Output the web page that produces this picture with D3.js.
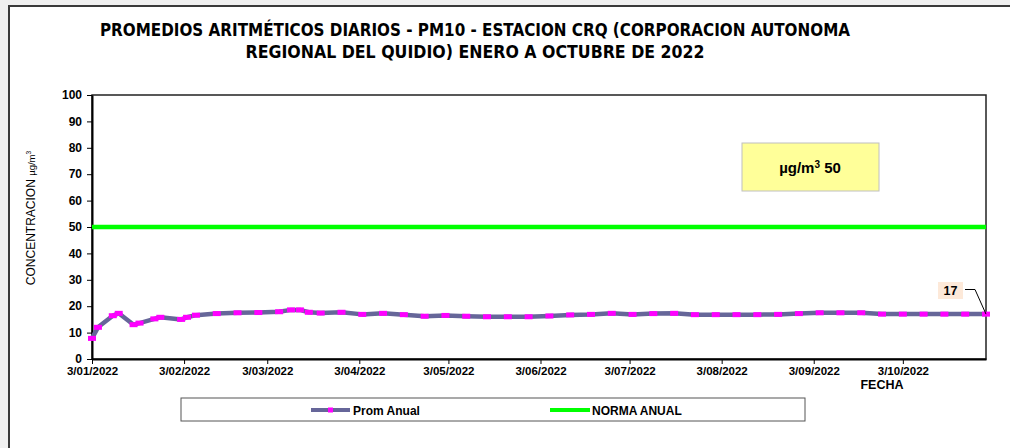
<!DOCTYPE html>
<html>
<head>
<meta charset="utf-8">
<script src="https://cdn.jsdelivr.net/npm/d3@7"></script>
<style>
  body { margin: 0; background: #f0f0f0; }
  svg { display: block; }
</style>
</head>
<body>
<svg id="chart"></svg>
<script>
// Datos
var fechas = ["2022-01-03","2022-01-05","2022-01-10","2022-01-12","2022-01-17","2022-01-19","2022-01-24","2022-01-26",
  "2022-02-02","2022-02-04","2022-02-07","2022-02-14","2022-02-21","2022-02-28","2022-03-07","2022-03-11",
  "2022-03-14","2022-03-17","2022-03-21","2022-03-28","2022-04-04","2022-04-11","2022-04-18","2022-04-25",
  "2022-05-02","2022-05-09","2022-05-16","2022-05-23","2022-05-30","2022-06-06","2022-06-13","2022-06-20",
  "2022-06-27","2022-07-04","2022-07-11","2022-07-18","2022-07-25","2022-08-01","2022-08-08","2022-08-15",
  "2022-08-22","2022-08-29","2022-09-05","2022-09-12","2022-09-19","2022-09-26","2022-10-03","2022-10-10",
  "2022-10-17","2022-10-24","2022-10-31"];
var promAnual = [7.8, 12.0, 16.4, 17.3, 13.0, 13.6, 15.2, 15.8,
  15.0, 15.8, 16.6, 17.2, 17.5, 17.6, 17.9, 18.6,
  18.6, 17.7, 17.4, 17.7, 16.9, 17.3, 16.8, 16.2,
  16.5, 16.2, 16.0, 16.0, 16.0, 16.3, 16.7, 16.9,
  17.3, 16.9, 17.2, 17.3, 16.8, 16.8, 16.8, 16.8,
  16.9, 17.2, 17.5, 17.5, 17.5, 17.0, 17.0, 17.0,
  17.0, 17.0, 17.0];
var normaAnual = [50, 50];
var normaFechas = ["2022-01-03", "2022-10-31"];
var tickFechas = ["2022-01-03","2022-02-03","2022-03-03","2022-04-03","2022-05-03",
  "2022-06-03","2022-07-03","2022-08-03","2022-09-03","2022-10-03"];
var yTicks = [0, 10, 20, 30, 40, 50, 60, 70, 80, 90, 100];

var parse = d3.timeParse("%Y-%m-%d");
var serie = fechas.map(function (f, i) { return { fecha: parse(f), valor: promAnual[i] }; });
var norma = normaFechas.map(function (f, i) { return { fecha: parse(f), valor: normaAnual[i] }; });

var width = 1010, height = 448;
var pLeft = 92, pRight = 986, pTop = 95, pBottom = 359;
var fuente = "'Liberation Sans', Arial, sans-serif";

var svg = d3.select("#chart").attr("width", width).attr("height", height);

// fondo y marco
svg.append("rect").attr("x", 9).attr("y", 6).attr("width", width).attr("height", height)
  .attr("fill", "#fff").attr("stroke", "#3a3a3a").attr("stroke-width", 2);

// escalas
var x = d3.scaleTime().domain([parse("2022-01-03"), parse("2022-10-31")]).range([pLeft, pRight]);
var y = d3.scaleLinear().domain([0, 100]).range([pBottom, pTop]);

// titulo
var titulo = svg.append("g")
  .style("font-family", "'Liberation Sans Narrow', 'DejaVu Sans Condensed', 'Liberation Sans', Arial, sans-serif")
  .style("font-weight", "bold").style("font-size", "17px").attr("fill", "#000");
titulo.append("text").attr("x", 475).attr("y", 36).attr("text-anchor", "middle")
  .attr("textLength", 750).attr("lengthAdjust", "spacingAndGlyphs")
  .text("PROMEDIOS ARITMÉTICOS DIARIOS - PM10 -  ESTACION CRQ (CORPORACION AUTONOMA");
titulo.append("text").attr("x", 475).attr("y", 58).attr("text-anchor", "middle")
  .attr("textLength", 459).attr("lengthAdjust", "spacingAndGlyphs")
  .text("REGIONAL DEL QUIDIO) ENERO A OCTUBRE DE 2022");

// borde del area de trazado
svg.append("rect").attr("x", pLeft).attr("y", pTop).attr("width", pRight - pLeft).attr("height", pBottom - pTop)
  .attr("fill", "none").attr("stroke", "#222").attr("stroke-width", 1.5);

// eje y
var yAxis = svg.append("g").attr("transform", "translate(" + pLeft + ",0)")
  .call(d3.axisLeft(y).tickValues(yTicks).tickSize(5).tickSizeOuter(0));
yAxis.select(".domain").attr("stroke", "#000").attr("stroke-width", 2);
yAxis.selectAll(".tick line").attr("stroke", "#000");
yAxis.selectAll("text").attr("x", -10).attr("dy", "0.3em")
  .style("font-family", fuente).style("font-weight", "bold")
  .style("font-size", "12px").attr("fill", "#000");

// eje x
var xAxis = svg.append("g").attr("transform", "translate(0," + pBottom + ")")
  .call(d3.axisBottom(x).tickValues(tickFechas.map(parse)).tickSize(5).tickSizeOuter(0)
    .tickFormat(function (d) { return d.getDate() + "/" + d3.timeFormat("%m/%Y")(d); }));
xAxis.select(".domain").attr("stroke", "#000").attr("stroke-width", 2);
xAxis.selectAll(".tick line").attr("stroke", "#000");
xAxis.selectAll("text").attr("y", 8)
  .style("font-family", fuente).style("font-weight", "bold")
  .style("font-size", "11.5px").attr("fill", "#000");

// titulos de ejes
svg.append("text").attr("x", 882).attr("y", 389).attr("text-anchor", "middle")
  .style("font-family", fuente).style("font-weight", "bold")
  .style("font-size", "12.5px").text("FECHA");

var yt = svg.append("text").attr("transform", "translate(35,218) rotate(-90)").attr("text-anchor", "middle")
  .style("font-family", fuente).style("font-size", "12px");
yt.append("tspan").text("CONCENTRACION ");
yt.append("tspan").style("font-size", "9.5px").text("µg/m");
yt.append("tspan").style("font-size", "6.5px").attr("dy", "-4").text("3");

// norma anual
var linea = d3.line().x(function (d) { return x(d.fecha); }).y(function (d) { return y(d.valor); });
svg.append("path").datum(norma).attr("d", linea)
  .attr("fill", "none").attr("stroke", "#00ff00").attr("stroke-width", 4.5);

// promedio anual
svg.append("path").datum(serie).attr("d", linea)
  .attr("fill", "none").attr("stroke", "#666699").attr("stroke-width", 4.5).attr("stroke-linejoin", "round");
svg.selectAll(".marca").data(serie).enter().append("rect").attr("class", "marca")
  .attr("x", function (d) { return x(d.fecha) - 4; })
  .attr("y", function (d) { return y(d.valor) - 2.5; })
  .attr("width", 8).attr("height", 5).attr("fill", "#ff00ff");

// caja amarilla
svg.append("rect").attr("x", 742).attr("y", 143).attr("width", 137).attr("height", 48)
  .attr("fill", "#ffff99").attr("stroke", "#c0c0c0");
var caja = svg.append("text").attr("x", 810).attr("y", 173).attr("text-anchor", "middle")
  .style("font-family", fuente).style("font-weight", "bold").style("font-size", "15px");
caja.append("tspan").text("µg/m");
caja.append("tspan").attr("dy", -5).style("font-size", "10px").text("3");
caja.append("tspan").attr("dy", 5).text(" 50");

// etiqueta del ultimo valor
var ultimo = serie[serie.length - 1];
svg.append("rect").attr("x", 938).attr("y", 282).attr("width", 25).attr("height", 17).attr("fill", "#fde9d9");
svg.append("text").attr("x", 950.5).attr("y", 295).attr("text-anchor", "middle")
  .style("font-family", fuente).style("font-weight", "bold").style("font-size", "12.5px")
  .text(d3.format(".0f")(ultimo.valor));
svg.append("path").attr("d", "M965,289.5 L975,289.5 L" + x(ultimo.fecha) + "," + y(ultimo.valor))
  .attr("fill", "none").attr("stroke", "#000").attr("stroke-width", 1);

// leyenda
var ley = svg.append("g");
ley.append("rect").attr("x", 181).attr("y", 398).attr("width", 624).attr("height", 23)
  .attr("fill", "#fff").attr("stroke", "#555");
ley.append("line").attr("x1", 311).attr("x2", 350).attr("y1", 410).attr("y2", 410)
  .attr("stroke", "#666699").attr("stroke-width", 4);
ley.append("rect").attr("x", 328).attr("y", 407.5).attr("width", 5).attr("height", 5).attr("fill", "#ff00ff");
ley.append("text").attr("x", 353).attr("y", 414.5)
  .style("font-family", fuente).style("font-weight", "bold").style("font-size", "12px")
  .text("Prom Anual");
ley.append("line").attr("x1", 550).attr("x2", 590).attr("y1", 410).attr("y2", 410)
  .attr("stroke", "#00ff00").attr("stroke-width", 4);
ley.append("text").attr("x", 592).attr("y", 414.5)
  .style("font-family", fuente).style("font-weight", "bold").style("font-size", "12px")
  .text("NORMA ANUAL");
</script>
</body>
</html>
